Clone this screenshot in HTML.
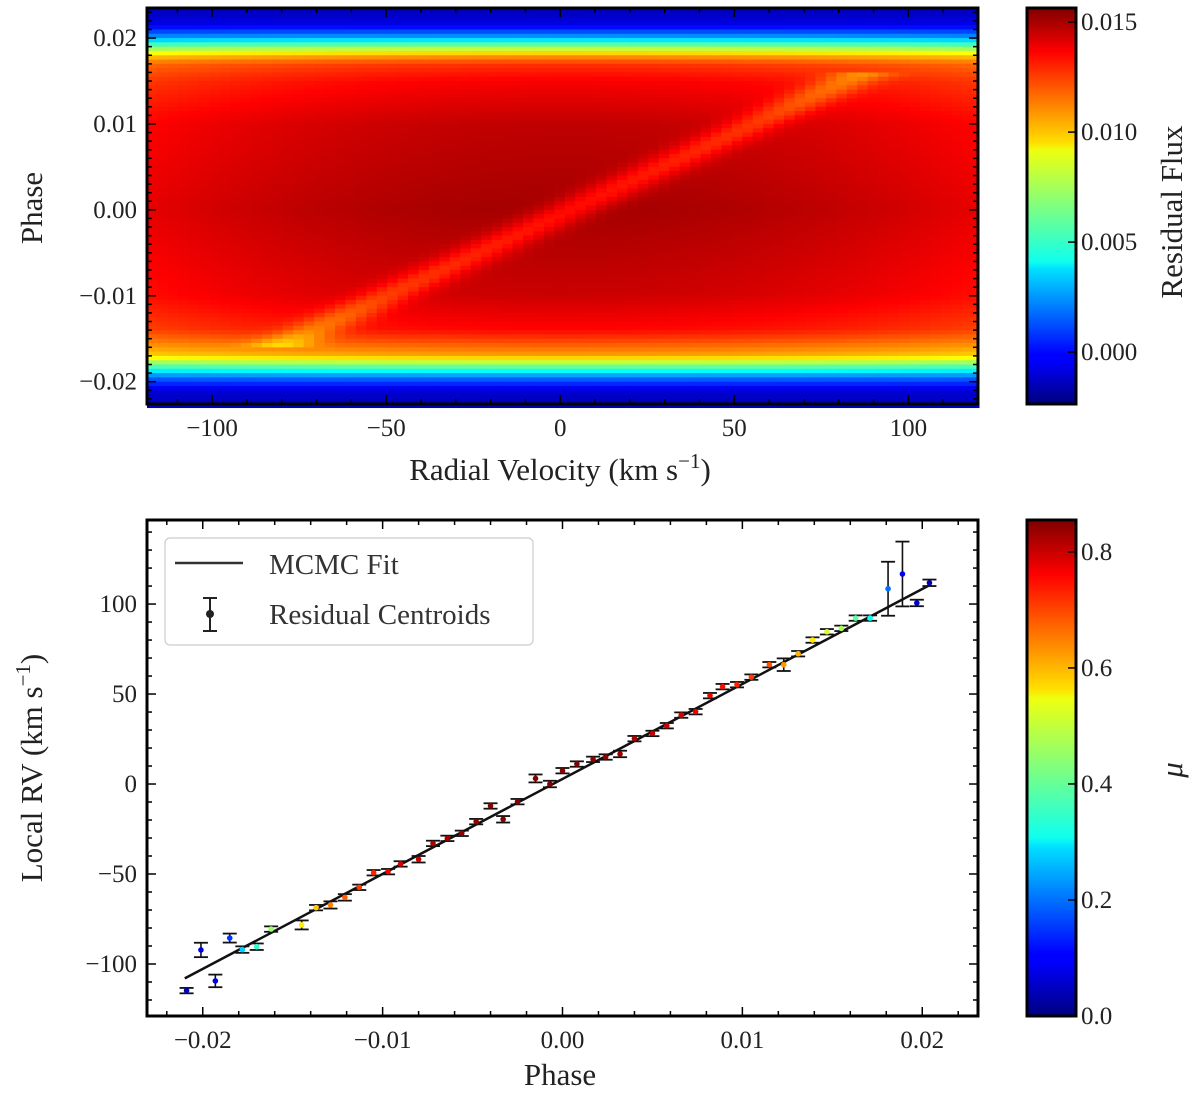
<!DOCTYPE html>
<html><head><meta charset="utf-8"><style>
body{margin:0;background:#fff;}
svg{display:block;font-family:"Liberation Serif","DejaVu Serif",serif;}
</style></head><body>
<svg id="fig" width="1200" height="1093" viewBox="0 0 1200 1093" xmlns="http://www.w3.org/2000/svg">
<defs>
<linearGradient id="jet" x1="0" y1="1" x2="0" y2="0">
<stop offset="0" stop-color="#00007f"/><stop offset="0.11" stop-color="#0000ff"/><stop offset="0.125" stop-color="#0000ff"/>
<stop offset="0.34" stop-color="#00dfff"/><stop offset="0.36" stop-color="#0fffee"/><stop offset="0.5" stop-color="#7fff7f"/>
<stop offset="0.64" stop-color="#eeff0f"/><stop offset="0.66" stop-color="#ffdf00"/><stop offset="0.89" stop-color="#ff0000"/>
<stop offset="1" stop-color="#7f0000"/></linearGradient>
</defs>
<g id="heat"></g>
<g id="topax"></g>
<g id="cb1"></g>
<g id="bot"></g>
<g id="cb2"></g>
</svg>
<script>
// ---------- heatmap model data ----------
const phaseKnots=[0.0235,0.0215,0.0200,0.0190,0.0180,0.0170,0.0150,0.0100,0.0000,-0.0100,-0.0140,-0.0160,-0.0170,-0.0180,-0.0195,-0.0210,-0.0226];
const fluxKnots=[-0.0015,-0.0005,0.003,0.007,0.0105,0.0125,0.0135,0.0145,0.0150,0.0143,0.0133,0.0115,0.0105,0.007,0.002,-0.0008,-0.0015];
const trackSlope=5277; const trackOffset=3; const trackDepth=0.0018;
// ---------- bottom chart data ----------
const phases=[-0.0209,-0.0201,-0.0193,-0.0185,-0.0178,-0.0170,-0.0162,-0.0145,-0.0137,-0.0129,-0.0121,-0.0113,-0.0105,-0.0097,-0.0090,-0.0080,-0.0072,-0.0064,-0.0056,-0.0048,-0.0040,-0.0033,-0.0025,-0.0015,-0.0007,0.0000,0.0008,0.0017,0.0024,0.0032,0.0040,0.0050,0.0058,0.0066,0.0074,0.0082,0.0089,0.0097,0.0105,0.0115,0.0123,0.0131,0.0139,0.0147,0.0155,0.0163,0.0171,0.0181,0.0189,0.0197,0.0204];
const rvs=[-114.8,-92.2,-109.4,-85.6,-92,-90.4,-80.6,-78.3,-68.7,-67.2,-63,-57.4,-49.3,-48.7,-44.4,-41.8,-33,-30.2,-27.4,-20.9,-12.2,-19.6,-9.8,3.1,0,7.4,11.1,13.7,15,16.7,25.2,28.1,32.4,38.3,40.2,49.1,54.1,55.2,59.4,66.3,66.3,72.4,80,84.6,86.5,92.2,92.2,108.5,116.7,100.6,111.8];
const rvErrs=[1.5,4,3.5,2.5,1.8,1.8,1.5,2.5,1.5,2,1.8,1.5,1.5,1.5,1.5,1.8,1.5,1.5,1.5,1.5,1.5,1.8,1.5,2.2,1.8,1.5,1.5,1.5,1.5,1.8,1.5,1.5,1.5,1.5,1.5,1.5,1.5,1.5,1.5,1.5,3.5,1.5,1.5,1.5,1.5,1.5,1.5,15,18,1.8,1.8];
const mus=[0.05,0.08,0.08,0.15,0.28,0.36,0.45,0.55,0.58,0.64,0.67,0.7,0.72,0.76,0.78,0.8,0.82,0.83,0.84,0.84,0.85,0.85,0.85,0.85,0.85,0.85,0.85,0.84,0.84,0.83,0.82,0.8,0.79,0.78,0.76,0.76,0.74,0.72,0.7,0.68,0.62,0.6,0.55,0.5,0.46,0.4,0.33,0.2,0.1,0.06,0.04];
const fitPhase=[-0.0210,0.0205];
const fitSlope=5277, fitIntercept=2.8;
const topXTicks=[-100,-50,0,50,100], topYTicks=[0.02,0.01,0.00,-0.01,-0.02];
const topYLabels=["0.02","0.01","0.00","\u22120.01","\u22120.02"], topXLabels=["\u2212100","\u221250","0","50","100"];
const cb1Ticks=[0.015,0.010,0.005,0.000], cb1Labels=["0.015","0.010","0.005","0.000"];
const botXTicks=[-0.02,-0.01,0,0.01,0.02], botXLabels=["\u22120.02","\u22120.01","0.00","0.01","0.02"];
const botYTicks=[100,50,0,-50,-100], botYLabels=["100","50","0","\u221250","\u2212100"];
const cb2Ticks=[0.8,0.6,0.4,0.2,0.0], cb2Labels=["0.8","0.6","0.4","0.2","0.0"];

const NS="http://www.w3.org/2000/svg";
function mk(parent,tag,attrs,text){const e=document.createElementNS(NS,tag);for(const k in attrs)e.setAttribute(k,attrs[k]);if(text!==undefined)e.textContent=text;parent.appendChild(e);return e;}
function jet(t){t=Math.max(0,Math.min(1,t));const f=(x)=>Math.max(0,Math.min(1,1.5-Math.abs(4*t-x)));return `rgb(${Math.round(255*f(3))},${Math.round(255*f(2))},${Math.round(255*f(1))})`;}
const AL=147,AR=978;
const tx=v=>AL+(v+118.7)/(120+118.7)*(AR-AL);
const ty=p=>8+(0.0235-p)/(0.0235+0.0226)*396;
const bx=p=>AL+(p+0.0231)/0.0462*(AR-AL);
const by=v=>520+(146.7-v)/(146.7+128.9)*496;
const c1=f=>8+(0.01564-f)/(0.01564+0.00236)*396;
const c2=m=>1016-m/0.855*496;
function interp(p){for(let i=0;i<phaseKnots.length-1;i++){const a=phaseKnots[i],b=phaseKnots[i+1];if(p<=a&&p>=b){const t=(a-p)/(a-b);return fluxKnots[i]+t*(fluxKnots[i+1]-fluxKnots[i]);}}return fluxKnots[fluxKnots.length-1];}
// heatmap
const heatG=document.getElementById('heat');
const dv=3, dp=0.0005;
for(let p=0.0235;p>-0.0226-1e-9;p-=dp){
  for(let v=-118.7;v<120;v+=dv){
    const pc=p-dp/2, vc=v+dv/2;
    let f=interp(pc)*(1-0.08*Math.pow(vc/120,2));
    if(Math.abs(pc)<0.0158) f-=trackDepth*Math.exp(-Math.pow((vc-(trackSlope*pc+trackOffset))/9,2));
    const t=(f+0.00236)/(0.01564+0.00236);
    const r=mk(heatG,'rect',{x:tx(v).toFixed(2),y:ty(p).toFixed(2),width:(tx(v+dv)-tx(v)+0.6).toFixed(2),height:(ty(p-dp)-ty(p)+0.6).toFixed(2),fill:jet(t)});
    
    
  }
}
function frame(g,x,y,w,h){mk(g,'rect',{x,y,width:w,height:h,fill:'none',stroke:'#000','stroke-width':3});}
function txt(g,x,y,s,opts){return mk(g,'text',Object.assign({x,y,'font-size':25,fill:'#222'},opts||{}),s);}
// top axes
const topAx=document.getElementById('topax');
mk(topAx,'rect',{x:AR+1.5,y:0,width:30,height:410,fill:'#fff'});
frame(topAx,AL,8,AR-AL,396);
for(let v=-110;v<=120;v+=10){const x=tx(v);const M=v%50===0;mk(topAx,'line',{x1:x,x2:x,y1:404,y2:404-(M?9:5),stroke:'#000','stroke-width':1.5});mk(topAx,'line',{x1:x,x2:x,y1:8,y2:8+(M?9:5),stroke:'#000','stroke-width':1.5});}
for(let k=-22;k<=23;k++){const p=k*0.001;const y=ty(p);const M=k%10===0;mk(topAx,'line',{x1:AL,x2:AL+(M?9:5),y1:y,y2:y,stroke:'#000','stroke-width':1.5});mk(topAx,'line',{x1:AR,x2:AR-(M?9:5),y1:y,y2:y,stroke:'#000','stroke-width':1.5});}
topXTicks.forEach((v,i)=>{const t=txt(topAx,tx(v),436,topXLabels[i],{'text-anchor':'middle'});});
topYTicks.forEach((p,i)=>{const t=txt(topAx,137,ty(p)+8,topYLabels[i],{'text-anchor':'end'});});
let t1=txt(topAx,560,480,'',{'text-anchor':'middle','font-size':31});t1.innerHTML='Radial Velocity (km s<tspan dy="-12" font-size="21">\u22121</tspan><tspan dy="12">)</tspan>';

let t2=txt(topAx,0,0,'Phase',{'text-anchor':'middle','font-size':31,transform:'translate(42,208) rotate(-90)'});

// colorbar 1
const cb1G=document.getElementById('cb1');
mk(cb1G,'rect',{x:1027,y:8,width:49,height:396,fill:'url(#jet)'});
frame(cb1G,1027,8,49,396);
cb1Ticks.forEach((f,i)=>{const y=c1(f);mk(cb1G,'line',{x1:1076,x2:1068,y1:y,y2:y,stroke:'#000','stroke-width':1.5});const t=txt(cb1G,1081,y+8,cb1Labels[i]);});
let t3=txt(cb1G,0,0,'Residual Flux',{'text-anchor':'middle','font-size':31,transform:'translate(1182,212) rotate(-90)'});

// bottom axes
const botG=document.getElementById('bot');
mk(botG,'rect',{x:AL,y:520,width:AR-AL,height:496,fill:'#fff'});
for(let k=-23;k<=23;k++){const x=bx(k*0.001);const M=k%10===0;const m=k%2===0;if(!m&&!M)continue;mk(botG,'line',{x1:x,x2:x,y1:1016,y2:1016-(M?9:5),stroke:'#000','stroke-width':1.5});mk(botG,'line',{x1:x,x2:x,y1:520,y2:520+(M?9:5),stroke:'#000','stroke-width':1.5});}
for(let v=-120;v<=140;v+=10){const y=by(v);const M=v%50===0;mk(botG,'line',{x1:AL,x2:AL+(M?9:5),y1:y,y2:y,stroke:'#000','stroke-width':1.5});mk(botG,'line',{x1:AR,x2:AR-(M?9:5),y1:y,y2:y,stroke:'#000','stroke-width':1.5});}
botXTicks.forEach((p,i)=>{const t=txt(botG,bx(p),1048,botXLabels[i],{'text-anchor':'middle'});});
botYTicks.forEach((v,i)=>{const t=txt(botG,137,by(v)+8,botYLabels[i],{'text-anchor':'end'});});
let fit=mk(botG,'line',{x1:bx(fitPhase[0]),y1:by(fitSlope*fitPhase[0]+fitIntercept),x2:bx(fitPhase[1]),y2:by(fitSlope*fitPhase[1]+fitIntercept),stroke:'#111','stroke-width':2.5});

phases.forEach((p,i)=>{
  const g=mk(botG,'g',{});
  
  
  const x=bx(p),y1=by(rvs[i]+rvErrs[i]),y2=by(rvs[i]-rvErrs[i]);
  mk(g,'line',{x1:x,x2:x,y1:y1,y2:y2,stroke:'#111','stroke-width':1.6});
  mk(g,'line',{x1:x-7,x2:x+7,y1:y1,y2:y1,stroke:'#111','stroke-width':1.8});
  mk(g,'line',{x1:x-7,x2:x+7,y1:y2,y2:y2,stroke:'#111','stroke-width':1.8});
  mk(g,'circle',{cx:x,cy:by(rvs[i]),r:2.8,fill:jet(mus[i]/0.855)});
});
frame(botG,AL,520,AR-AL,496);
// legend
const lg=mk(botG,'g',{});


mk(lg,'rect',{x:165,y:538,width:368,height:107,rx:5,fill:'#fff',stroke:'#ccc','stroke-width':1.2});
mk(lg,'line',{x1:175,x2:243,y1:563,y2:563,stroke:'#333','stroke-width':2.5});
txt(lg,269,574,'MCMC Fit',{'font-size':29,fill:'#333'});
mk(lg,'line',{x1:210,x2:210,y1:598,y2:631,stroke:'#222','stroke-width':2});
mk(lg,'line',{x1:203,x2:217,y1:598,y2:598,stroke:'#222','stroke-width':2});
mk(lg,'line',{x1:203,x2:217,y1:631,y2:631,stroke:'#222','stroke-width':2});
mk(lg,'circle',{cx:210,cy:614,r:4,fill:'#222'});
txt(lg,269,624,'Residual Centroids',{'font-size':29,fill:'#333'});
let t4=txt(botG,560,1085,'Phase',{'text-anchor':'middle','font-size':31});

let t5=txt(botG,0,0,'',{'text-anchor':'middle','font-size':31,transform:'translate(42,768) rotate(-90)'});
t5.innerHTML='Local RV (km s<tspan dy="-12" font-size="21">\u22121</tspan><tspan dy="12">)</tspan>';

// colorbar 2
const cb2G=document.getElementById('cb2');
mk(cb2G,'rect',{x:1027,y:520,width:49,height:496,fill:'url(#jet)'});
frame(cb2G,1027,520,49,496);
cb2Ticks.forEach((m,i)=>{const y=c2(m);mk(cb2G,'line',{x1:1076,x2:1068,y1:y,y2:y,stroke:'#000','stroke-width':1.5});const t=txt(cb2G,1081,y+8,cb2Labels[i]);});
let t6=txt(cb2G,0,0,'\u03bc',{'text-anchor':'middle','font-size':31,'font-style':'italic',transform:'translate(1182,770) rotate(-90)'});

</script>
</body></html>
